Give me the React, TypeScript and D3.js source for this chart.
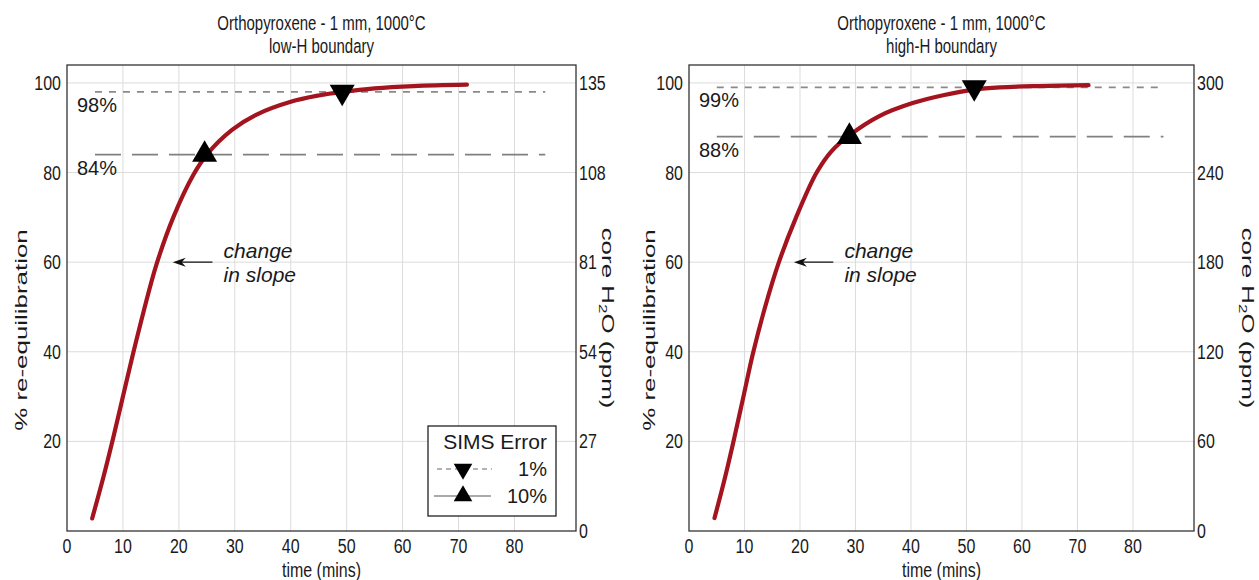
import React from 'react';
import * as d3 from 'd3';

// ---------- data ----------
const xTicks = [0, 10, 20, 30, 40, 50, 60, 70, 80];
const yTicks = [20, 40, 60, 80, 100];
const titleLine1 = 'Orthopyroxene - 1 mm, 1000°C';
const subtitleLow = 'low-H boundary';
const subtitleHigh = 'high-H boundary';
const rightTicksLow = [0, 27, 54, 81, 108, 135];
const rightTicksHigh = [0, 60, 120, 180, 240, 300];

const timeLow = [4.5, 6.5, 8.3, 10, 11.7, 13.7, 16, 19, 22.6, 25, 29.5, 34, 40, 45, 49.2, 55, 62, 71.5];
const reqLow = [2.8, 12, 21, 30, 39, 49, 59.5, 70, 79.5, 84, 89.5, 93, 95.8, 97.2, 98, 98.8, 99.3, 99.6];

const timeHigh = [4.6, 6.5, 8.2, 9.9, 11.5, 13.6, 16.2, 19.3, 23, 25.7, 28.9, 34.3, 40.3, 46, 51.4, 56, 63, 72];
const reqHigh = [2.9, 12, 21, 30.5, 39.5, 49.5, 60, 70, 80, 84.8, 88.3, 92.6, 95.5, 97.3, 98.5, 99.0, 99.3, 99.5];

// thresholds: [1% SIMS error, 10% SIMS error]
const thresholdsLow = [98, 84];
const thresholdsHigh = [99, 88];
const markerTimesLow = [49.2, 24.6];
const markerTimesHigh = [51.4, 28.9];
const refLineRange = [5, 85.5];

const legendTitle = 'SIMS Error';
const legendLabels = ['1%', '10%'];
const annotationLines = ['change', 'in slope'];
const xLabel = 'time (mins)';
const yLabelLeft = '% re-equilibration';

const FONT = '"Liberation Sans", Arial, Helvetica, sans-serif';
const TXT = '#1a1a1a';
const RED = '#a3141f';

type TProps = { x: number; y: number; k?: number; size: number; anchor?: string; children: React.ReactNode; italic?: boolean };
// horizontal text, slightly stretched vertically to mimic the reference's glyph shapes
function HText({ x, y, k = 1, size, anchor = 'start', children, italic }: TProps) {
  return (
    <text transform={`translate(${x},${y}) scale(1,${k})`} fontSize={size} textAnchor={anchor}
      fontStyle={italic ? 'italic' : 'normal'}>{children}</text>
  );
}

type PanelProps = {
  x0: number; x1: number; y0: number; y1: number;
  subtitle: string;
  time: number[]; req: number[];
  rightTicks: number[];
  thresholds: number[];
  markerTimes: number[];
  legend: boolean;
  leftLabelOffset: number;
  rightLabelOffset: number;
};

function Panel(p: PanelProps) {
  const x = d3.scaleLinear().domain([0, 91]).range([p.x0, p.x1]);
  const y = d3.scaleLinear().domain([0, 104]).range([p.y1, p.y0]);
  const rMax = p.rightTicks[p.rightTicks.length - 1];
  const yr = d3.scaleLinear().domain([0, rMax * 1.04]).range([p.y1, p.y0]);
  const pts = p.time.map((t, i) => [t, p.req[i]] as [number, number]);
  const line = d3.line<[number, number]>().x(d => x(d[0])).y(d => y(d[1])).curve(d3.curveCatmullRom.alpha(0.5));
  const tri = d3.symbol().type(d3.symbolTriangle).size(270)();
  const triSmall = d3.symbol().type(d3.symbolTriangle).size(150)();
  const cx = (p.x0 + p.x1) / 2;

  // legend geometry
  const lx1 = p.x1 - 20, lx0 = lx1 - 128, ly1 = p.y1 - 15, ly0 = ly1 - 90;
  const ax = x(18.9), ay = y(60);

  return (
    <g fontFamily={FONT} fill={TXT}>
      {/* grid */}
      {xTicks.filter(t => t > 0).map(t => (
        <line key={'gx' + t} x1={x(t)} x2={x(t)} y1={p.y0} y2={p.y1} stroke="#dcdcdc" strokeWidth={1} />
      ))}
      {yTicks.map(t => (
        <line key={'gy' + t} x1={p.x0} x2={p.x1} y1={y(t)} y2={y(t)} stroke="#dcdcdc" strokeWidth={1} />
      ))}
      {/* reference lines */}
      <line x1={x(refLineRange[0])} x2={x(refLineRange[1])} y1={y(p.thresholds[0])} y2={y(p.thresholds[0])}
        stroke="#8a8a8a" strokeWidth={1.6} strokeDasharray="7,7" />
      <line x1={x(refLineRange[0])} x2={x(refLineRange[1])} y1={y(p.thresholds[1])} y2={y(p.thresholds[1])}
        stroke="#808080" strokeWidth={1.7} strokeDasharray="26,11" />
      {p.thresholds.map((th, i) => (
        <text key={'th' + i} x={p.x0 + 10} y={y(th) + 20} fontSize={20}>{th}%</text>
      ))}
      {/* curve */}
      <path d={line(pts) || ''} fill="none" stroke={RED} strokeWidth={4.2} strokeLinecap="round" />
      {/* markers */}
      <path d={tri} transform={`translate(${x(p.markerTimes[0])},${y(p.thresholds[0])}) rotate(180)`} fill="#000" />
      <path d={tri} transform={`translate(${x(p.markerTimes[1])},${y(p.thresholds[1])})`} fill="#000" />
      {/* annotation */}
      <line x1={x(26)} x2={ax + 6} y1={ay} y2={ay} stroke="#111" strokeWidth={1.3} />
      <path d={`M${ax},${ay} L${ax + 13},${ay - 4.5} L${ax + 9},${ay} L${ax + 13},${ay + 4.5} Z`} fill="#111" />
      <HText x={x(28)} y={ay - 4} size={21} italic>{annotationLines[0]}</HText>
      <HText x={x(28)} y={ay + 20} size={21} italic>{annotationLines[1]}</HText>
      {/* frame */}
      <rect x={p.x0} y={p.y0} width={p.x1 - p.x0} height={p.y1 - p.y0} fill="none" stroke="#333" strokeWidth={1.3} />
      {/* x tick labels */}
      {xTicks.map(t => (
        <HText key={'xl' + t} x={x(t)} y={p.y1 + 22} size={16} k={1.22} anchor="middle">{t}</HText>
      ))}
      {/* left tick labels */}
      {yTicks.map(t => (
        <HText key={'yl' + t} x={p.x0 - 6} y={y(t) + 7} size={16} k={1.22} anchor="end">{t}</HText>
      ))}
      {/* right tick labels */}
      {p.rightTicks.map(t => (
        <HText key={'yr' + t} x={p.x1 + 3} y={yr(t) + 7} size={16} k={1.22} anchor="start">{t}</HText>
      ))}
      {/* titles */}
      <HText x={cx} y={30} size={15} k={1.3} anchor="middle">{titleLine1}</HText>
      <HText x={cx} y={53} size={15} k={1.3} anchor="middle">{p.subtitle}</HText>
      <HText x={cx} y={p.y1 + 46} size={16} k={1.22} anchor="middle">{xLabel}</HText>
      <text transform={`translate(${p.x0 + p.leftLabelOffset},330) rotate(-90) scale(1.62,1)`} fontSize={16} textAnchor="middle">{yLabelLeft}</text>
      <text transform={`translate(${p.x1 + p.rightLabelOffset},318) rotate(90) scale(1.62,1)`} fontSize={16} textAnchor="middle">
        core H<tspan fontSize={10.5} dy={3}>2</tspan><tspan dy={-3}>O (ppm)</tspan>
      </text>
      {/* legend */}
      {p.legend && (
        <g>
          <rect x={lx0} y={ly0} width={lx1 - lx0} height={ly1 - ly0} fill="#fff" stroke="#222" strokeWidth={1.3} />
          <text x={lx1 - 9} y={ly0 + 23} fontSize={21} textAnchor="end">{legendTitle}</text>
          <line x1={lx0 + 9} x2={lx0 + 64} y1={ly0 + 43} y2={ly0 + 43} stroke="#999" strokeWidth={1.6} strokeDasharray="5,4" />
          <path d={triSmall} transform={`translate(${lx0 + 35},${ly0 + 43}) rotate(180)`} fill="#000" />
          <text x={lx1 - 9} y={ly0 + 50} fontSize={20} textAnchor="end">{legendLabels[0]}</text>
          <line x1={lx0 + 6} x2={lx0 + 63} y1={ly0 + 70} y2={ly0 + 70} stroke="#aaa" strokeWidth={2.2} />
          <path d={triSmall} transform={`translate(${lx0 + 35},${ly0 + 70})`} fill="#000" />
          <text x={lx1 - 9} y={ly0 + 77} fontSize={20} textAnchor="end">{legendLabels[1]}</text>
        </g>
      )}
    </g>
  );
}

export default function App() {
  return (
    <svg width={1259} height={580} style={{ position: 'absolute', left: 0, top: 0, background: '#fff' }}>
      <rect x={0} y={0} width={1259} height={580} fill="#fff" />
      <Panel x0={67} x1={576} y0={65} y1={531} subtitle={subtitleLow}
        time={timeLow} req={reqLow} rightTicks={rightTicksLow}
        thresholds={thresholdsLow} markerTimes={markerTimesLow} legend={true}
        leftLabelOffset={-40} rightLabelOffset={26} />
      <Panel x0={689} x1={1194} y0={65} y1={531} subtitle={subtitleHigh}
        time={timeHigh} req={reqHigh} rightTicks={rightTicksHigh}
        thresholds={thresholdsHigh} markerTimes={markerTimesHigh} legend={false}
        leftLabelOffset={-34} rightLabelOffset={48} />
    </svg>
  );
}
